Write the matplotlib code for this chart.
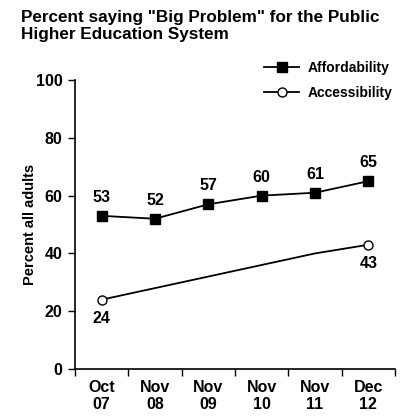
import matplotlib
matplotlib.use("Agg")
import matplotlib.pyplot as plt
from matplotlib.lines import Line2D

categories = ["Oct\n07", "Nov\n08", "Nov\n09", "Nov\n10", "Nov\n11", "Dec\n12"]
affordability = [53, 52, 57, 60, 61, 65]
accessibility = [24, 28, 32, 36, 40, 43]
access_labeled = [0, 5]
y_ticks = [0, 20, 40, 60, 80, 100]

plt.rcParams['font.family'] = ['Liberation Sans', 'DejaVu Sans']
plt.rcParams['font.weight'] = 'bold'

fig = plt.figure(figsize=(4.2, 4.19), dpi=100)
ax = fig.add_axes([0.1786, 0.1193, 0.9405 - 0.1786, 0.809 - 0.1193])

x = list(range(len(categories)))
ax.plot(x, affordability, color='black', lw=1.3, marker='s', ms=6.5,
        mfc='black', mec='black')
ax.plot(x, accessibility, color='black', lw=1.3)
ax.plot([x[i] for i in access_labeled], [accessibility[i] for i in access_labeled],
        ls='none', marker='o', ms=6.5, mfc='white', mec='black', mew=1.0)

for xi, v in zip(x, affordability):
    ax.annotate(str(v), (xi, v), xytext=(0, 8), textcoords='offset points',
                ha='center', va='bottom', fontsize=11.5, fontweight='bold')
for i in access_labeled:
    ax.annotate(str(accessibility[i]), (x[i], accessibility[i]), xytext=(0, -8),
                textcoords='offset points', ha='center', va='top',
                fontsize=11.5, fontweight='bold')

ax.set_xlim(-0.5, len(categories) - 0.5)
ax.set_ylim(0, 100)
ax.set_yticks(y_ticks)
ax.set_yticklabels([str(t) for t in y_ticks], fontsize=11.5, fontweight='bold')
ax.set_xticks(x)
ax.set_xticklabels(categories, fontsize=11.5, fontweight='bold', linespacing=1.15)
ax.tick_params(axis='x', which='major', length=0, pad=8)
ax.set_xticks([i - 0.5 for i in range(len(categories) + 1)], minor=True)
ax.tick_params(axis='x', which='minor', length=5, direction='out', width=1)
ax.tick_params(axis='y', length=5, direction='out', width=1, pad=4)
for s in ['top', 'right']:
    ax.spines[s].set_visible(False)
for s in ['left', 'bottom']:
    ax.spines[s].set_linewidth(1.2)

ax.set_ylabel("Percent all adults", fontsize=10.5, fontweight='bold', labelpad=-1)

handles = [Line2D([], [], color='black', lw=1.3, marker='s', ms=6.5, mfc='black'),
           Line2D([], [], color='black', lw=1.3, marker='o', ms=6.5, mfc='white')]
leg = ax.legend(handles, ["Affordability", "Accessibility"], loc='upper right',
                bbox_to_anchor=(1.03, 1.11), frameon=False,
                prop={'size': 10, 'weight': 'bold'}, handlelength=2.5,
                labelspacing=0.8, handletextpad=0.6)

fig.text(0.05, 0.975, "Percent saying \"Big Problem\" for the Public\nHigher Education System",
         ha='left', va='top', fontsize=12.3, fontweight='bold', linespacing=1.15)

fig.savefig("out.png", dpi=100)
